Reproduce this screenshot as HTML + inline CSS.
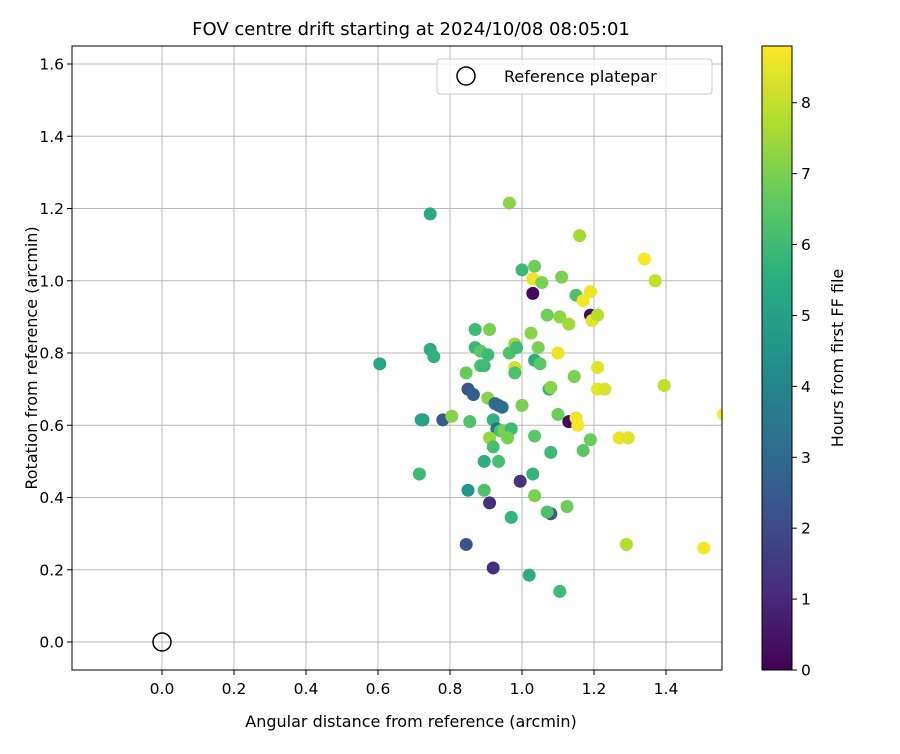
<!DOCTYPE html>
<html><head><meta charset="utf-8"><style>
body{margin:0;background:#fff;font-family:"DejaVu Sans","Liberation Sans",sans-serif;}
svg text{font-family:"DejaVu Sans","Liberation Sans",sans-serif;fill:#000;}
</style></head><body>
<svg id="c" width="900" height="750" viewBox="0 0 900 750" xmlns="http://www.w3.org/2000/svg">
<defs>
<linearGradient id="vir" x1="0" y1="1" x2="0" y2="0">
<stop offset="0" stop-color="#440154"/><stop offset="0.125" stop-color="#472d7b"/><stop offset="0.25" stop-color="#3b528b"/><stop offset="0.375" stop-color="#2c728e"/><stop offset="0.5" stop-color="#21918c"/><stop offset="0.625" stop-color="#28ae80"/><stop offset="0.75" stop-color="#5ec962"/><stop offset="0.875" stop-color="#addc30"/><stop offset="1" stop-color="#fde725"/>
</linearGradient>
<clipPath id="pc"><rect x="72" y="46" width="650" height="624"/></clipPath>
</defs>
<text x="411" y="35" font-size="18" text-anchor="middle">FOV centre drift starting at 2024/10/08 08:05:01</text>
<g id="grid"></g>
<g id="pts" clip-path="url(#pc)"></g>
<rect x="72" y="46" width="650" height="624" fill="none" stroke="#000" stroke-width="1"/>
<g id="ticks"></g>
<text x="411" y="727" font-size="16" text-anchor="middle">Angular distance from reference (arcmin)</text>
<text x="37" y="358" font-size="16" text-anchor="middle" transform="rotate(-90 37 358)">Rotation from reference (arcmin)</text>
<g>
<rect x="437" y="59" width="275" height="35" rx="3" fill="#fff" fill-opacity="0.8" stroke="#ccc"/>
<circle cx="466" cy="76" r="9" fill="none" stroke="#000" stroke-width="1.5"/>
<text x="504" y="82" font-size="16">Reference platepar</text>
</g>
<rect x="762" y="46" width="30" height="624" fill="url(#vir)" stroke="#000" stroke-width="1"/>
<g id="cbt"></g>
<text x="843" y="358" font-size="16" text-anchor="middle" transform="rotate(-90 843 358)">Hours from first FF file</text>
</svg>
<script>
const xVals=[0.745,0.965,1.16,1.0,1.035,1.03,1.055,1.11,1.15,1.17,1.19,1.03,1.19,1.195,1.21,1.34,1.37,1.07,1.105,1.13,1.025,0.605,0.745,0.755,0.87,0.91,0.87,0.885,0.905,0.885,0.895,0.845,0.965,0.98,0.985,1.045,1.035,1.05,0.98,0.98,1.1,1.21,1.21,1.23,1.395,1.145,1.075,1.08,0.85,0.865,0.905,0.925,0.935,0.945,0.97,0.72,0.725,0.78,0.805,0.855,0.92,0.93,0.94,0.95,0.97,0.91,0.96,0.92,1.0,1.035,1.08,1.1,1.13,1.15,1.155,1.19,1.17,1.27,1.295,1.56,1.29,1.505,0.715,0.895,0.935,0.85,0.895,0.91,0.995,1.03,1.035,1.08,1.07,1.125,0.97,0.845,0.92,1.02,1.105];
const yVals=[1.185,1.215,1.125,1.03,1.04,1.005,0.995,1.01,0.96,0.945,0.97,0.965,0.905,0.89,0.905,1.06,1.0,0.905,0.9,0.88,0.855,0.77,0.81,0.79,0.865,0.865,0.815,0.805,0.795,0.765,0.765,0.745,0.8,0.825,0.815,0.815,0.78,0.77,0.76,0.745,0.8,0.76,0.7,0.7,0.71,0.735,0.7,0.705,0.7,0.685,0.675,0.66,0.655,0.65,0.59,0.615,0.615,0.615,0.625,0.61,0.615,0.59,0.585,0.585,0.59,0.565,0.565,0.54,0.655,0.57,0.525,0.63,0.61,0.62,0.6,0.56,0.53,0.565,0.565,0.63,0.27,0.26,0.465,0.5,0.5,0.42,0.42,0.385,0.445,0.465,0.405,0.355,0.36,0.375,0.345,0.27,0.205,0.185,0.14];
const hours=[5.3,7.2,7.6,6.0,6.8,8.6,7.0,7.0,6.3,8.7,8.6,0.2,0.3,8.5,7.8,8.8,8.0,6.8,7.3,7.6,7.2,5.2,5.5,5.6,6.0,7.0,5.9,6.6,6.0,6.3,6.0,6.7,6.3,7.5,6.0,7.0,5.5,6.5,8.2,6.3,8.6,8.4,8.5,8.3,8.0,7.0,5.8,7.2,2.3,2.6,7.2,3.1,2.9,3.2,7.0,5.0,5.1,2.5,7.2,6.3,5.7,3.0,6.2,7.0,6.0,7.4,7.0,6.2,7.0,6.5,6.0,6.8,0.2,8.6,8.7,6.8,6.5,8.6,8.4,8.8,7.8,8.7,6.0,5.5,6.2,4.6,6.3,1.2,1.3,5.8,7.0,2.4,6.3,6.8,5.8,2.3,1.2,5.5,6.1];
const xTicks=["0.0","0.2","0.4","0.6","0.8","1.0","1.2","1.4"];
const yTicks=["0.0","0.2","0.4","0.6","0.8","1.0","1.2","1.4","1.6"];
const cTicks=["0","1","2","3","4","5","6","7","8"];
const hMax=8.8;
const X=v=>162+v*360, Y=v=>642-v*361.25, C=h=>670-h*(624/hMax);
const vir=[[68,1,84],[72,40,120],[62,74,137],[49,104,142],[38,130,142],[31,158,137],[53,183,121],[110,206,88],[181,222,43],[253,231,37]];
function col(h){let t=Math.max(0,Math.min(1,h/hMax))*(vir.length-1);let i=Math.min(Math.floor(t),vir.length-2),f=t-i;
return 'rgb('+vir[i].map((a,k)=>Math.round(a+(vir[i+1][k]-a)*f)).join(',')+')';}
const NS='http://www.w3.org/2000/svg';
function mk(tag,at,parent){const e=document.createElementNS(NS,tag);for(const k in at)e.setAttribute(k,at[k]);document.getElementById(parent).appendChild(e);return e;}
xTicks.forEach(t=>{const x=X(parseFloat(t));
const g=mk('line',{x1:x,x2:x,y1:46,y2:670,stroke:'#b8b8b8','stroke-width':1},'grid');


mk('line',{x1:x,x2:x,y1:670,y2:675,stroke:'#000'},'ticks');
const l=mk('text',{x:x,y:694,'font-size':15.5,'text-anchor':'middle'},'ticks');l.textContent=t;

});
yTicks.forEach(t=>{const y=Y(parseFloat(t));
const g=mk('line',{x1:72,x2:722,y1:y,y2:y,stroke:'#b8b8b8','stroke-width':1},'grid');


mk('line',{x1:67,x2:72,y1:y,y2:y,stroke:'#000'},'ticks');
const l=mk('text',{x:64,y:y+5.5,'font-size':15.5,'text-anchor':'end'},'ticks');l.textContent=t;

});
cTicks.forEach(t=>{const y=C(parseFloat(t));
mk('line',{x1:792,x2:797,y1:y,y2:y,stroke:'#000'},'cbt');
const l=mk('text',{x:801,y:y+5.5,'font-size':15.5},'cbt');l.textContent=t;

});
xVals.forEach((v,i)=>{const p=mk('circle',{cx:X(v),cy:Y(yVals[i]),r:6.5,fill:col(hours[i])},'pts');

});
const r=mk('circle',{cx:X(0),cy:Y(0),r:9,fill:'none',stroke:'#000','stroke-width':1.5},'pts');


</script>
</body></html>
